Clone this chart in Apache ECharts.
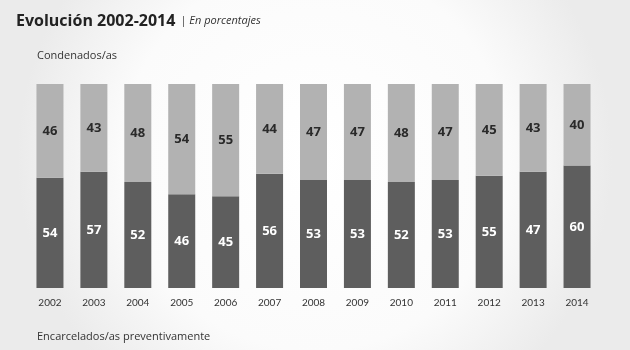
<!DOCTYPE html>
<html><head><meta charset="utf-8">
<script src="https://cdn.jsdelivr.net/npm/echarts@6/dist/echarts.min.js"></script>
<style>html,body{margin:0;padding:0;}#c{width:630px;height:350px;}</style>
</head><body><div id="c"></div>
<script>
const years = ['2002','2003','2004','2005','2006','2007','2008','2009','2010','2011','2012','2013','2014'];
const preventivos = [54,57,52,46,45,56,53,53,52,53,55,57,60];
const preventivosLabels = ['54','57','52','46','45','56','53','53','52','53','55','47','60'];
const condenados = [46,43,48,54,55,44,47,47,48,47,45,43,40];

const chart = echarts.init(document.getElementById('c'));
const F = 'Open Sans';
chart.setOption({
  backgroundColor: {type:'radial', x:0.5, y:0.45, r:0.85, colorStops:[{offset:0,color:'#ffffff'},{offset:0.65,color:'#fbfbfb'},{offset:1,color:'#ebebeb'}]},
  animation:false,
  title: {
    left: 11, top: 7,
    text: '{b|Evolución 2002-2014} {s|| }{i|En porcentajes}',
    textStyle: {
      fontWeight:'normal',
      rich: {
        b: {fontFamily:F, fontWeight:'bold', fontSize:16, color:'#222'},
        s: {fontFamily:F, fontWeight:'normal', fontSize:11, color:'#444'},
        i: {fontFamily:F, fontWeight:'normal', fontStyle:'italic', fontSize:11, color:'#333'}
      }
    }
  },
  graphic: [
    {type:'text', left:37, top:50, style:{text:'Condenados/as', font:'11px "Open Sans"', fill:'#333'}},
    {type:'text', left:37, top:331, style:{text:'Encarcelados/as preventivamente', font:'11px "Open Sans"', fill:'#333'}}
  ],
  grid: {left:28, right:31, top:84, bottom:62},
  xAxis: {
    type:'category', data: years,
    axisLine:{show:false}, axisTick:{show:false},
    axisLabel:{margin:10, fontFamily:'Lato', fontSize:10, color:'#333'}
  },
  yAxis: {type:'value', min:0, max:100, show:false},
  series: [
    {
      name:'Encarcelados/as preventivamente', type:'bar', stack:'t', barWidth:27,
      data: preventivos,
      itemStyle:{color:'#5e5e5e'},
      label:{show:true, position:'inside', color:'#fff', fontFamily:F, fontWeight:'bold', fontSize:13,
        formatter: p => preventivosLabels[p.dataIndex]}
    },
    {
      name:'Condenados/as', type:'bar', stack:'t', barWidth:27,
      data: condenados,
      itemStyle:{color:'#b2b2b2'},
      label:{show:true, position:'inside', color:'#2a2a2a', fontFamily:F, fontWeight:'bold', fontSize:13}
    }
  ]
});
</script></body></html>
